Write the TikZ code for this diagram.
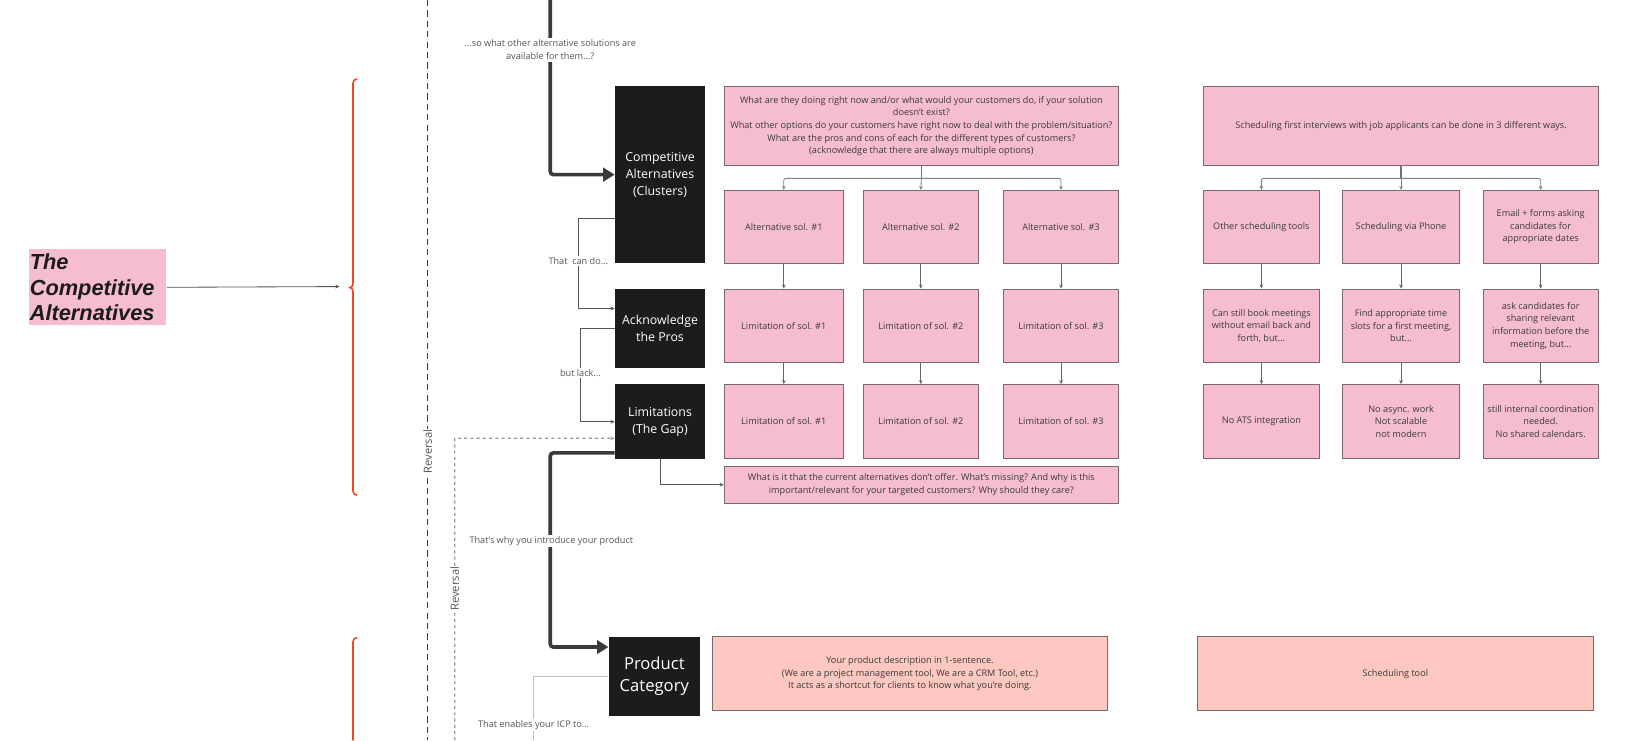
\documentclass[tikz,border=0pt]{standalone}
\usepackage{fontspec}
\setmainfont{Open Sans}
\newfontfamily\titlefont{Liberation Sans}
\usetikzlibrary{arrows.meta}
\definecolor{pinkfill}{HTML}{F6BDD1}
\definecolor{salmon}{HTML}{FEC7C0}
\definecolor{boxline}{HTML}{7E6870}
\definecolor{darkbox}{HTML}{1C1C1C}
\definecolor{redline}{HTML}{F24726}
\definecolor{txt}{HTML}{3A3A3A}
\definecolor{lbl}{HTML}{555555}
\begin{document}
\begin{tikzpicture}[x=1pt,y=-1pt,
  pinkbox/.style={draw=boxline, line width=0.8pt, fill=pinkfill, anchor=north west, inner sep=2pt, align=center, text=txt, font=\fontsize{8.8}{12.2}\selectfont},
  salmonbox/.style={pinkbox, fill=salmon},
  blackbox/.style={fill=darkbox, draw=none, anchor=north west, inner sep=2pt, text=white, align=center, font=\fontsize{11.9}{16.5}\selectfont},
  lbltext/.style={fill=white, inner sep=1.5pt, text=lbl, align=center, font=\fontsize{8.8}{13}\selectfont},
  revtext/.style={fill=white, inner sep=1pt, text=lbl, rotate=90, font=\fontsize{10.8}{12}\selectfont},
  thickarrow/.style={draw=txt, line width=3.5pt, rounded corners=3pt, -{Triangle[length=11pt,width=13pt]}},
  conn/.style={draw=lbl, line width=0.8pt, -{Stealth[length=4pt,width=3.5pt]}},
  stem/.style={draw=gray!90!black, line width=1.6pt},
  branch/.style={draw=gray, line width=0.8pt, rounded corners=2pt, -{Stealth[length=4pt,width=3.5pt]}},
  rowarrow/.style={draw=gray!80!black, line width=0.8pt, -{Stealth[length=4pt,width=3.5pt]}},
]
\useasboundingbox (0,0) rectangle (1568,713);

% dashed reversal lines
\coordinate (r1top) at (412,0);
\coordinate (r1bot) at (412,713);
\draw[draw=txt, line width=1pt, dash pattern=on 6pt off 4pt] (r1top) -- (r1bot);
\node[revtext] (rev1) at (412,435) {Reversal};

\coordinate (r2bot) at (438,713);
\coordinate (r2top) at (438,422);

% red brackets
\coordinate (br1a) at (344,76);
\coordinate (br1b) at (344,477);
\draw[draw=redline, line width=1.5pt] (br1a) to[out=180,in=90] (340,80) -- (340,273) to[out=-90,in=0] (337,277) to[out=0,in=90] (340,281) -- (340,473) to[out=-90,in=180] (br1b);
\coordinate (br2a) at (344,614);
\draw[draw=redline, line width=1.5pt] (br2a) to[out=180,in=90] (340,618) -- (340,713);

% title
\node[fill=pinkfill, anchor=north west, minimum width=132pt, minimum height=73pt, text width=131pt, inner xsep=0.5pt, inner ysep=0pt, align=left, font=\titlefont\bfseries\itshape\fontsize{21}{24.5}\selectfont, text=darkbox] (title) at (28,240) {The\\Competitive\\Alternatives};
\coordinate (titleend) at (327,276);
\draw[conn] (title.east) -- (titleend);

% black boxes
\node[blackbox, minimum width=87pt, minimum height=170pt] (ca) at (592,83) {Competitive\\Alternatives\\(Clusters)};
\node[blackbox, minimum width=87pt, minimum height=76pt] (ack) at (592,278) {Acknowledge\\the Pros};
\node[blackbox, minimum width=87pt, minimum height=72pt] (lim) at (592,370) {Limitations\\(The Gap)};
\node[blackbox, minimum width=88pt, minimum height=76pt, font=\fontsize{16}{21}\selectfont] (pc) at (586,613) {Product\\Category};

% pink boxes left
\node[pinkbox, minimum width=380pt, minimum height=76pt] (q1) at (697,83) {What are they doing right now and/or what would your customers do, if your solution\\doesn't exist?\\What other options do your customers have right now to deal with the problem/situation?\\What are the pros and cons of each for the different types of customers?\\(acknowledge that there are always multiple options)};
\node[pinkbox, minimum width=115pt, minimum height=70pt] (a1) at (697,183) {Alternative sol. \#1};
\node[pinkbox, minimum width=111pt, minimum height=70pt] (a2) at (831,183) {Alternative sol. \#2};
\node[pinkbox, minimum width=111pt, minimum height=70pt] (a3) at (966,183) {Alternative sol. \#3};
\node[pinkbox, minimum width=115pt, minimum height=71pt] (p1) at (697,278) {Limitation of sol. \#1};
\node[pinkbox, minimum width=111pt, minimum height=71pt] (p2) at (831,278) {Limitation of sol. \#2};
\node[pinkbox, minimum width=111pt, minimum height=71pt] (p3) at (966,278) {Limitation of sol. \#3};
\node[pinkbox, minimum width=115pt, minimum height=71pt] (l1) at (697,370) {Limitation of sol. \#1};
\node[pinkbox, minimum width=111pt, minimum height=71pt] (l2) at (831,370) {Limitation of sol. \#2};
\node[pinkbox, minimum width=111pt, minimum height=71pt] (l3) at (966,370) {Limitation of sol. \#3};
\node[pinkbox, minimum width=380pt, minimum height=35pt] (gap) at (697,449) {What is it that the current alternatives don't offer. What's missing? And why is this\\important/relevant for your targeted customers? Why should they care?};

% pink boxes right
\node[pinkbox, minimum width=380pt, minimum height=76pt] (q2) at (1159,83) {Scheduling first interviews with job applicants can be done in 3 different ways.};
\node[pinkbox, minimum width=111pt, minimum height=70pt] (b1) at (1159,183) {Other scheduling tools};
\node[pinkbox, minimum width=112pt, minimum height=70pt] (b2) at (1293,183) {Scheduling via Phone};
\node[pinkbox, minimum width=111pt, minimum height=70pt] (b3) at (1428,183) {Email + forms asking\\candidates for\\appropriate dates};
\node[pinkbox, minimum width=111pt, minimum height=71pt] (c1) at (1159,278) {Can still book meetings\\without email back and\\forth, but...};
\node[pinkbox, minimum width=112pt, minimum height=71pt] (c2) at (1293,278) {Find appropriate time\\slots for a first meeting,\\but...};
\node[pinkbox, minimum width=111pt, minimum height=71pt] (c3) at (1428,278) {ask candidates for\\sharing relevant\\information before the\\meeting, but...};
\node[pinkbox, minimum width=111pt, minimum height=71pt] (d1) at (1159,370) {No ATS integration};
\node[pinkbox, minimum width=112pt, minimum height=71pt] (d2) at (1293,370) {No async. work\\Not scalable\\not modern};
\node[pinkbox, minimum width=111pt, minimum height=71pt] (d3) at (1428,370) {still internal coordination\\needed.\\No shared calendars.};

% salmon boxes
\node[salmonbox, minimum width=380pt, minimum height=71pt] (pd) at (686,613) {Your product description in 1-sentence.\\(We are a project management tool, We are a CRM Tool, etc.)\\It acts as a shortcut for clients to know what you're doing.};
\node[salmonbox, minimum width=381pt, minimum height=71pt] (st) at (1153,613) {Scheduling tool};

% tree connectors
\draw[stem] (q1.south) -- ++(0,12) coordinate (q1j);
\draw[branch] (q1j) -| (a1.north);
\draw[branch] (q1j) -- (a2.north);
\draw[branch] (q1j) -| (a3.north);
\draw[stem] (q2.south) -- ++(0,12) coordinate (q2j);
\draw[branch] (q2j) -| (b1.north);
\draw[branch] (q2j) -- (b2.north);
\draw[branch] (q2j) -| (b3.north);

\foreach \u/\v in {a1/p1,a2/p2,a3/p3,p1/l1,p2/l2,p3/l3,b1/c1,b2/c2,b3/c3,c1/d1,c2/d2,c3/d3}
  \draw[rowarrow] (\u.south) -- (\v.north);

% main flow
\coordinate (topin) at (530,0);
\draw[thickarrow] (topin) |- (ca.west);
\node[lbltext] (lb1) at (530,48) {...so what other alternative solutions are\\available for them...?};

\draw[conn] ([yshift=-42pt]ca.west) -- ++(-35,0) |- ([yshift=19pt]ack.west);
\node[lbltext] (lb2) at (557,251) {That\ \ can do...};

\draw[conn] (ack.west) -- ++(-33,0) |- (lim.west);
\node[lbltext] (lb3) at (559,359) {but lack...};

\draw[draw=gray!80, line width=1.2pt, dash pattern=on 3pt off 3pt, -{Stealth[length=4pt,width=3.5pt]}] (r2bot) -- (r2top) -- ([yshift=-16pt]lim.west);
\node[revtext] (rev2) at (438,567) {Reversal};

\draw[thickarrow] ([yshift=-30pt]lim.west) -- ++(-62,0) |- ([yshift=28pt]pc.west);
\node[lbltext] (lb4) at (531,521) {That's why you introduce your product};

\draw[conn] (lim.south) |- (gap.west);

\coordinate (pcdown) at (514,713);
\draw[draw=gray!50, line width=1pt] (pc.west) -| (pcdown);
\node[lbltext] (lb5) at (514,698) {That enables your ICP to...};
\end{tikzpicture}
\end{document}
